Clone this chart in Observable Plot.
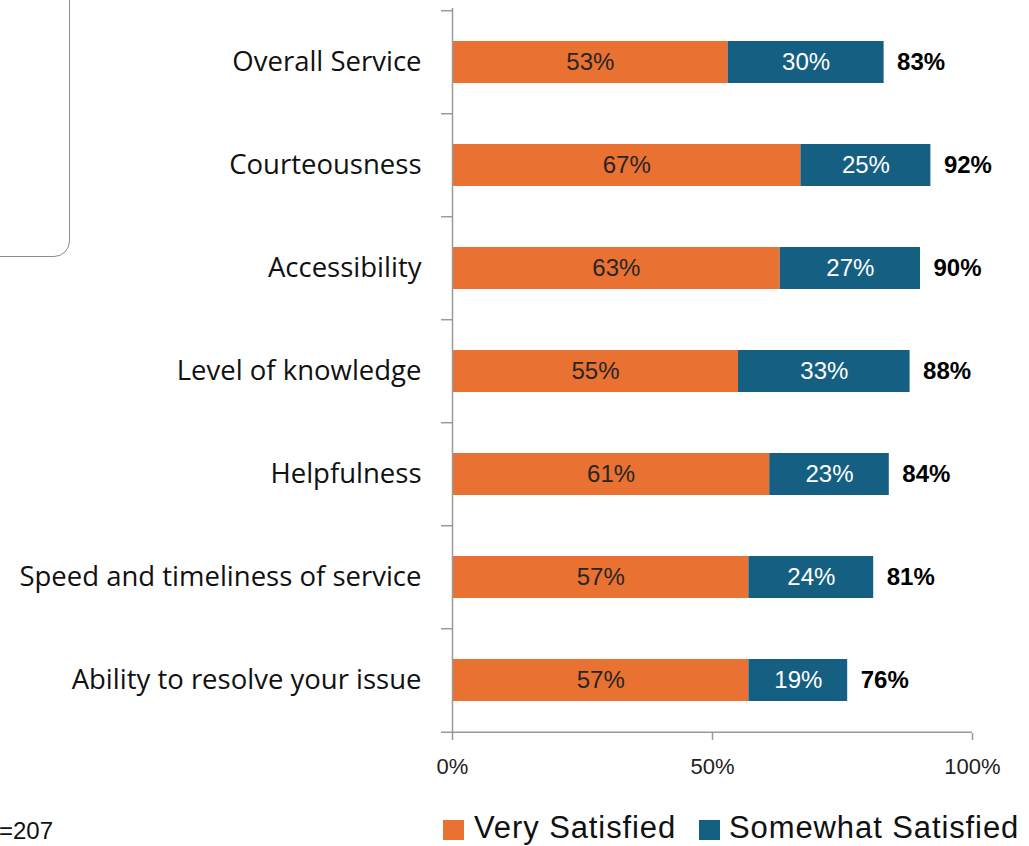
<!DOCTYPE html>
<html>
<head>
<meta charset="utf-8">
<script src="https://cdn.jsdelivr.net/npm/d3@7"></script>
<script src="https://cdn.jsdelivr.net/npm/@observablehq/plot@0.6"></script>
<style>
  body { margin: 0; background: #fff; }
  #wrap { position: relative; width: 1029px; height: 846px; overflow: hidden; font-family: "Liberation Sans", Arial, sans-serif; }
  #chart { position: absolute; left: 0; top: 0; }
  #box { position: absolute; left: -30px; top: -30px; width: 98px; height: 285px; border: 1.5px solid #8c8c8c; border-radius: 16px; }
  .sw { position: absolute; width: 21px; height: 20px; }
  .lt { position: absolute; font-size: 31px; line-height: 1; color: #111; white-space: nowrap; letter-spacing: 0.9px; }
  #n { position: absolute; left: -1px; font-size: 24px; line-height: 1; color: #111; }
</style>
</head>
<body>
<div id="wrap">
  <div id="box"></div>
  <div id="chart"></div>
  <div id="legend"></div>
  <div id="n"></div>
</div>
<script>
const categories = [
  "Overall Service",
  "Courteousness",
  "Accessibility",
  "Level of knowledge",
  "Helpfulness",
  "Speed and timeliness of service",
  "Ability to resolve your issue"
];
const seriesNames = ["Very Satisfied", "Somewhat Satisfied"];
const seriesColors = ["#E97132", "#156082"];
const verySatisfied = [53, 67, 63, 55, 61, 57, 57];
const somewhatSatisfied = [30, 25, 27, 33, 23, 24, 19];
const totals = [83, 92, 90, 88, 84, 81, 76];
const xTicks = [0, 50, 100];
const sampleNote = "=207";

const data = categories.flatMap((c, i) => [
  {cat: c, series: seriesNames[0], value: verySatisfied[i]},
  {cat: c, series: seriesNames[1], value: somewhatSatisfied[i]}
]);
const totalData = categories.map((c, i) => ({cat: c, total: totals[i]}));

const W = 1029, H = 800, mT = 8, mB = 67, mL = 452, mR = 57;
const step = (H - mT - mB) / categories.length;
const tickLen = 11 * 100 / (W - mL - mR);
const axisColor = "#9a9a9a";

const chart = Plot.plot({
  width: W, height: H,
  marginLeft: mL, marginRight: mR, marginTop: mT, marginBottom: mB,
  style: {fontFamily: "'Liberation Sans', Arial, sans-serif", background: "transparent", color: "#111"},
  x: {domain: [0, 100]},
  y: {domain: categories, paddingInner: 0.593, paddingOuter: 0.2965},
  color: {domain: seriesNames, range: seriesColors},
  marks: [
    Plot.barX(data, Plot.stackX({x: "value", y: "cat", fill: "series"})),
    Plot.text(data, Plot.stackX({x: "value", y: "cat", z: "series",
      text: d => d.series === seriesNames[0] ? d.value + "%" : "",
      fill: "#262626", fontSize: 24})),
    Plot.text(data, Plot.stackX({x: "value", y: "cat", z: "series",
      text: d => d.series === seriesNames[1] ? d.value + "%" : "",
      fill: "#ffffff", fontSize: 24})),
    Plot.text(totalData, {x: "total", y: "cat", text: d => d.total + "%", dx: 13,
      textAnchor: "start", fontWeight: "bold", fontSize: 24, fill: "#000"}),
    Plot.ruleX([0], {stroke: axisColor, strokeWidth: 1.5}),
    Plot.ruleY(categories, {y: d => d, x1: -tickLen, x2: 0, dy: -step / 2, stroke: axisColor, strokeWidth: 1.5}),
    Plot.ruleY(categories.slice(-1), {y: d => d, x1: -tickLen, x2: 100, dy: step / 2, stroke: axisColor, strokeWidth: 1.5}),
    Plot.axisY({tickSize: 0, tickPadding: 31, fontSize: 27.5, fontFamily: "'Open Sans', sans-serif", fill: "#111", label: null}),
    Plot.axisX({ticks: xTicks, tickFormat: d => d + "%", tickSize: 7, tickPadding: 18, fontSize: 22,
      stroke: axisColor, strokeWidth: 1.5, fill: "#222", label: null})
  ]
});
document.getElementById("chart").appendChild(chart);

// legend (HTML, below the plot)
const legend = document.getElementById("legend");
const legendPos = [{sw: 443, tx: 474}, {sw: 699, tx: 729}];
seriesNames.forEach((s, i) => {
  const sw = document.createElement("div");
  sw.className = "sw";
  sw.style.left = legendPos[i].sw + "px";
  sw.style.top = "820px";
  sw.style.background = seriesColors[i];
  legend.appendChild(sw);
  const t = document.createElement("div");
  t.className = "lt";
  t.style.left = legendPos[i].tx + "px";
  t.style.top = (838 - 0.8465 * 31) + "px";
  t.textContent = s;
  legend.appendChild(t);
});
const n = document.getElementById("n");
n.textContent = sampleNote;
n.style.top = (839 - 0.8465 * 24) + "px";
</script>
</body>
</html>
